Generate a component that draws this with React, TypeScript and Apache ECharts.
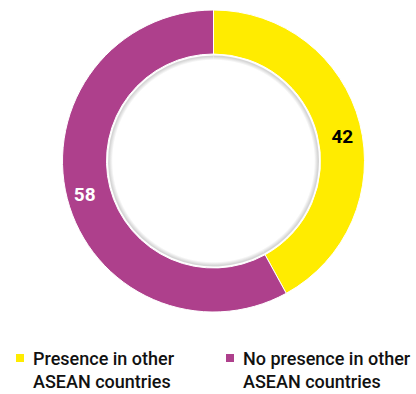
import React, { useEffect, useRef } from "react";
import * as echarts from "echarts";

const categories = ["Presence in other\nASEAN countries", "No presence in other\nASEAN countries"];
const values = [42, 58];
const colors = ["#FFEC00", "#AE408C"];
const labelColors = ["#000000", "#FFFFFF"];
const labelOffsets = [[1, 8], [-1, 1]];

const FONT = "Roboto, 'Liberation Sans Narrow', sans-serif";

export default function App() {
  const ref = useRef<HTMLDivElement>(null);
  useEffect(() => {
    const chart = echarts.init(ref.current!, undefined, { renderer: "svg" });
    const data = categories.map((name, i) => ({
      name,
      value: values[i],
      itemStyle: { color: colors[i] },
      label: { color: labelColors[i], offset: labelOffsets[i] },
    }));
    const legendCommon = {
      orient: "horizontal" as const,
      top: 323.5,
      padding: 0,
      itemWidth: 10,
      itemHeight: 10,
      icon: "rect",
      selectedMode: false,
      formatter: (name: string) => "\n" + name,
      textStyle: {
        fontFamily: FONT,
        fontWeight: 500,
        fontSize: 18,
        lineHeight: 23,
        color: "#111",
        padding: [0, 0, 0, 3],
      },
    };
    chart.setOption({
      animation: false,
      backgroundColor: "#fff",
      legend: [
        { ...legendCommon, left: 14, data: [categories[0]] },
        { ...legendCommon, left: 224, data: [categories[1]] },
      ],
      series: [
        {
          type: "pie",
          center: [213.5, 161],
          radius: [107, 151],
          startAngle: 90,
          clockwise: true,
          silent: true,
          itemStyle: { borderColor: "#fff", borderWidth: 1 },
          label: {
            show: true,
            position: "inside",
            formatter: "{c}",
            fontFamily: FONT,
            fontWeight: "bold",
            fontSize: 19,
          },
          labelLine: { show: false },
          data,
        },
        {
          type: "pie",
          center: [213.5, 161],
          radius: [99, 105.5],
          startAngle: 90,
          clockwise: true,
          silent: true,
          label: { show: false },
          labelLine: { show: false },
          itemStyle: {
            borderWidth: 0,
            color: new echarts.graphic.RadialGradient(
              213.5,
              161,
              105.5,
              [
                { offset: 0, color: "#ffffff" },
                { offset: 0.955, color: "#ffffff" },
                { offset: 0.99, color: "#d6d6d6" },
                { offset: 1, color: "#d6d6d6" },
              ],
              true
            ),
          },
          data: categories.map((name, i) => ({ name: name + " ", value: values[i] })),
        },
      ],
    });
    return () => chart.dispose();
  }, []);
  return (
    <div
      ref={ref}
      style={{ position: "fixed", left: 0, top: 0, width: 416, height: 394 }}
    />
  );
}
